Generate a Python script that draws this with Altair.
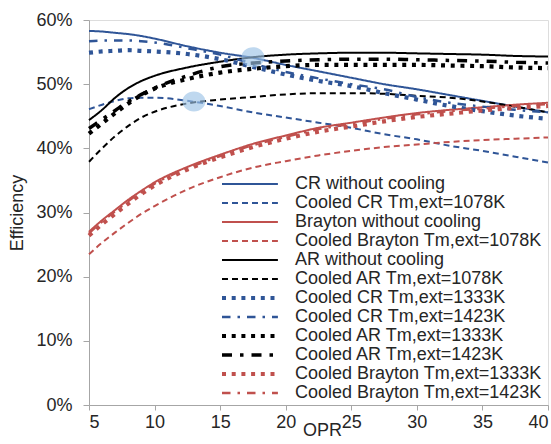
import altair as alt
import pandas as pd

opr = [5, 6, 7, 8, 9, 10, 12.5, 15, 17.5, 20, 22.5, 25, 27.5, 30, 32.5, 35, 37.5, 40]

series_names = [
    "CR without cooling",
    "Cooled CR Tm,ext=1078K",
    "Brayton without cooling",
    "Cooled Brayton Tm,ext=1078K",
    "AR without cooling",
    "Cooled AR Tm,ext=1078K",
    "Cooled CR Tm,ext=1333K",
    "Cooled CR Tm,ext=1423K",
    "Cooled AR Tm,ext=1333K",
    "Cooled AR Tm,ext=1423K",
    "Cooled Brayton Tm,ext=1333K",
    "Cooled Brayton Tm,ext=1423K",
]

cr_nc = [58.3, 58.2, 58.0, 57.8, 57.5, 57.1, 55.9, 54.9, 54.1, 53.0, 52.0, 51.0, 50.0, 49.2, 48.3, 47.4, 46.5, 45.6]
cr_1078 = [46.1, 46.8, 47.4, 47.8, 47.9, 47.9, 47.4, 46.6, 45.6, 44.8, 44.0, 43.2, 42.2, 41.4, 40.4, 39.6, 38.7, 37.8]
br_nc = [27.0, 28.8, 30.4, 32.0, 33.4, 34.7, 37.1, 39.0, 40.7, 42.0, 43.2, 44.0, 44.8, 45.5, 46.0, 46.4, 46.8, 47.1]
br_1078 = [23.5, 25.3, 26.9, 28.4, 29.8, 31.0, 33.6, 35.5, 37.0, 38.0, 38.9, 39.6, 40.2, 40.6, 41.0, 41.3, 41.5, 41.7]
ar_nc = [44.4, 46.0, 47.9, 49.4, 50.5, 51.3, 52.6, 53.5, 54.2, 54.6, 54.8, 54.9, 54.9, 54.8, 54.7, 54.6, 54.4, 54.3]
ar_1078 = [37.9, 40.0, 41.9, 43.5, 44.8, 45.7, 47.0, 47.6, 48.0, 48.4, 48.6, 48.6, 48.5, 48.2, 47.9, 47.3, 46.5, 45.6]
cr_1333 = [54.9, 55.1, 55.2, 55.3, 55.2, 55.1, 54.7, 53.9, 52.7, 51.5, 50.5, 49.7, 48.6, 47.6, 46.6, 45.8, 45.1, 44.6]
cr_1423 = [56.7, 56.8, 56.8, 56.8, 56.7, 56.5, 55.6, 54.6, 53.2, 51.9, 50.9, 50.0, 49.2, 48.0, 47.1, 46.5, 46.0, 45.6]
ar_1333 = [42.3, 43.9, 45.5, 47.0, 48.3, 49.3, 50.8, 51.8, 52.4, 52.8, 53.0, 53.0, 53.0, 53.0, 52.9, 52.8, 52.6, 52.5]
ar_1423 = [43.1, 44.5, 45.9, 47.3, 48.4, 49.4, 51.3, 52.7, 53.3, 53.6, 53.8, 53.9, 53.9, 53.8, 53.7, 53.6, 53.4, 53.3]
br_1333 = [26.4, 28.2, 29.8, 31.4, 32.9, 34.2, 36.7, 38.6, 40.2, 41.5, 42.6, 43.4, 44.2, 44.9, 45.4, 45.9, 46.3, 46.6]
br_1423 = [26.8, 28.6, 30.2, 31.8, 33.2, 34.5, 36.9, 38.8, 40.5, 41.8, 43.0, 43.8, 44.6, 45.3, 45.8, 46.2, 46.6, 46.9]

series_values = [cr_nc, cr_1078, br_nc, br_1078, ar_nc, ar_1078,
                 cr_1333, cr_1423, ar_1333, ar_1423, br_1333, br_1423]

BLUE = "#2F5597"
RED = "#C0504D"
BLACK = "#000000"
colors = [BLUE, BLUE, RED, RED, BLACK, BLACK, BLUE, BLUE, BLACK, BLACK, RED, RED]

SOLID = [1, 0]
DASH = [6, 4]
DOT = [4, 5.7]
DASHDOT = [8.5, 7, 2.5, 7]
LONGDASHDOT = [10, 8, 3.5, 8]
dashes = [SOLID, DASH, SOLID, DASH, SOLID, DASH, DOT, DASHDOT, DOT, LONGDASHDOT, DOT, DASHDOT]
widths = [2, 2, 2, 2, 2, 2, 4.2, 2.5, 4.2, 3.5, 4.2, 2.5]

# highlight circles
circle_x = [17.5, 13]
circle_y = [54.2, 47.3]

rows = []
for k, (name, vals) in enumerate(zip(series_names, series_values)):
    for x, v in zip(opr, vals):
        rows.append({"series": name, "opr": x, "eff": v, "k": k})
df = pd.DataFrame(rows)
cdf = pd.DataFrame({"opr": circle_x, "eff": circle_y})

FONT = "Liberation Sans"
TXT = "#262626"
FS = 18

leg = alt.Legend(
    title=None,
    orient="none",
    legendX=124,
    legendY=155,
    symbolType="M0,0H10",
    symbolSize=125,
    labelFontSize=FS,
    labelFont=FONT,
    labelColor=TXT,
    labelOffset=64,
    rowPadding=1,
    labelLimit=400,
    padding=0,
)

x_enc = alt.X("opr:Q", scale=alt.Scale(domain=[5, 40], nice=False, zero=False),
              axis=alt.Axis(values=[5, 10, 15, 20, 25, 30, 35, 40], title="OPR",
                            titleX=233, titleY=16, titleBaseline="top",
                            titleFontWeight="normal", titleFontSize=FS,
                            titleFont=FONT, titleColor=TXT,
                            labelFont=FONT, labelFontSize=FS, labelColor=TXT,
                            grid=False, domainColor="#A6A6A6", tickColor="#A6A6A6",
                            tickSize=5, labelPadding=3))
y_enc = alt.Y("eff:Q", scale=alt.Scale(domain=[0, 60], nice=False),
              axis=alt.Axis(values=[0, 10, 20, 30, 40, 50, 60],
                            labelExpr="datum.value + '%'", title="Efficiency",
                            titleFontWeight="normal", titleFontSize=FS,
                            titleFont=FONT, titleColor=TXT, titlePadding=9,
                            labelFont=FONT, labelFontSize=FS, labelColor=TXT,
                            grid=False, domainColor="#A6A6A6", tickColor="#A6A6A6",
                            tickSize=6, labelPadding=11))

lines = alt.Chart(df).mark_line(interpolate="monotone", strokeCap="butt",
                                strokeJoin="round").encode(
    x=x_enc,
    y=y_enc,
    color=alt.Color("series:N", scale=alt.Scale(domain=series_names, range=colors), legend=leg),
    strokeDash=alt.StrokeDash("series:N", scale=alt.Scale(domain=series_names, range=dashes), legend=leg),
    strokeWidth=alt.StrokeWidth("series:N", scale=alt.Scale(type="ordinal", domain=series_names, range=widths), legend=leg),
    order=alt.Order("opr:Q"),
)

ellipse = "M-1.15,0A1.15,1 0 1,1 1.15,0A1.15,1 0 1,1 -1.15,0Z"
circles = alt.Chart(cdf).mark_point(filled=True, shape=ellipse, size=400,
                                    color="#9DC3E6", opacity=0.65,
                                    strokeWidth=0).encode(x="opr:Q", y="eff:Q")

chart = alt.layer(lines, circles).properties(
    width=459, height=385,
    autosize=alt.AutoSizeParams(type="none"),
    padding={"left": 89, "top": 20, "right": 3, "bottom": 39},
).configure_view(stroke="#BFBFBF", strokeWidth=1).configure(background="white")

chart.save("out.html", embed_options={"renderer": "svg", "actions": False})
